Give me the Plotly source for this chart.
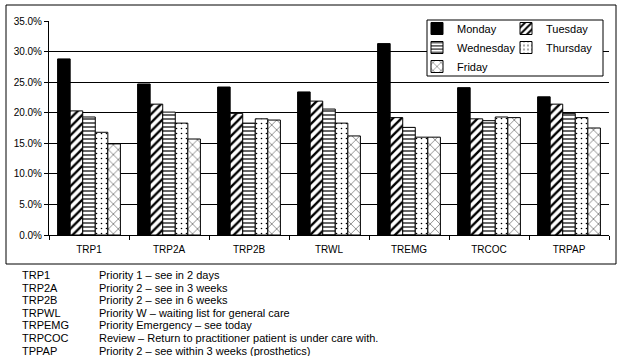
import plotly.graph_objects as go

categories = ["TRP1", "TRP2A", "TRP2B", "TRWL", "TREMG", "TRCOC", "TRPAP"]
monday = [28.8, 24.7, 24.2, 23.4, 31.3, 24.1, 22.6]
tuesday = [20.3, 21.4, 19.9, 21.9, 19.2, 19.0, 21.4]
wednesday = [19.3, 20.1, 18.3, 20.6, 17.6, 18.7, 19.9]
thursday = [16.8, 18.3, 19.0, 18.3, 16.0, 19.3, 19.2]
friday = [14.9, 15.7, 18.8, 16.2, 16.0, 19.2, 17.5]

key_codes = ["TRP1", "TRP2A", "TRP2B", "TRPWL", "TRPEMG", "TRPCOC", "TPPAP"]
key_texts = [
    "Priority 1 \u2013 see in 2 days",
    "Priority 2 \u2013 see in 3 weeks",
    "Priority 2 \u2013 see in 6 weeks",
    "Priority W \u2013 waiting list for general care",
    "Priority Emergency \u2013 see today",
    "Review \u2013 Return to practitioner patient is under care with.",
    "Priority 2 \u2013 see within 3 weeks (prosthetics)",
]

FONT = "Arial, Liberation Sans, sans-serif"
W, H = 627, 356
L, R, T, B = 49, 18, 21, 121
PW, PH = W - L - R, H - T - B

def px(x):
    return (x - L) / PW

def py(y):
    return (H - B - y) / PH

series = [
    ("Monday", monday, "", 8, 0.3, "legend"),
    ("Tuesday", tuesday, "/", 6, 0.4, "legend2"),
    ("Wednesday", wednesday, "-", 4, 0.3, "legend"),
    ("Thursday", thursday, ".", 5, 0.08, "legend2"),
    ("Friday", friday, "x", 7, 0.12, "legend"),
]

fig = go.Figure()
for name, vals, shape, size, sol, lg in series:
    if shape == "":
        marker = dict(color="black", line=dict(color="black", width=1))
    else:
        marker = dict(
            color="white",
            line=dict(color="black", width=1),
            pattern=dict(shape=shape, fgcolor="black", bgcolor="white",
                         size=size, solidity=sol, fillmode="replace"),
        )
    fig.add_trace(go.Bar(x=categories, y=vals, name=name, marker=marker, legend=lg))

annotations = []
for i, (code, text) in enumerate(zip(key_codes, key_texts)):
    yy = 275 + i * 12.6
    annotations.append(dict(x=px(20), y=py(yy), xref="paper", yref="paper", text=code,
                            showarrow=False, xanchor="left", yanchor="middle",
                            font=dict(family=FONT, size=11, color="black")))
    annotations.append(dict(x=px(97), y=py(yy), xref="paper", yref="paper", text=text,
                            showarrow=False, xanchor="left", yanchor="middle",
                            font=dict(family=FONT, size=11, color="black")))

shapes = [
    dict(type="rect", xref="paper", yref="paper", x0=px(6), x1=px(616), y0=py(264), y1=py(5),
         line=dict(color="black", width=1), fillcolor="rgba(0,0,0,0)", layer="below"),
    dict(type="rect", xref="paper", yref="paper", x0=px(427), x1=px(603), y0=py(76), y1=py(20),
         line=dict(color="black", width=1), fillcolor="white", layer="above"),
]

legend_common = dict(
    bgcolor="rgba(0,0,0,0)", borderwidth=0, orientation="v",
    xanchor="left", yanchor="top", itemwidth=30, tracegroupgap=0,
    font=dict(family=FONT, size=11, color="black"),
    itemclick=False, itemdoubleclick=False,
)

fig.update_layout(
    width=W, height=H,
    margin=dict(l=L, r=R, t=T, b=B, pad=0),
    paper_bgcolor="white", plot_bgcolor="white",
    barmode="group", bargap=0.215, bargroupgap=0,
    font=dict(family=FONT, size=10, color="black"),
    showlegend=True,
    legend=dict(x=px(417), y=py(14), **legend_common),
    legend2=dict(x=px(506), y=py(14), **legend_common),
    xaxis=dict(
        showline=True, linecolor="black", linewidth=1,
        ticks="outside", tickson="boundaries", ticklen=4, tickcolor="black",
        ticklabelstandoff=5,
        showgrid=False, tickfont=dict(family=FONT, size=10, color="black"),
    ),
    yaxis=dict(
        range=[0, 35], dtick=5, tickformat=".1f", ticksuffix="%",
        showline=True, linecolor="black", linewidth=1,
        ticks="outside", ticklen=4, tickcolor="black",
        showgrid=True, gridcolor="black", gridwidth=1, zeroline=False,
        tickfont=dict(family=FONT, size=10, color="black"),
    ),
    annotations=annotations,
    shapes=shapes,
)

fig.write_html("out.html", config={"displayModeBar": False},
               post_script="document.body.style.margin='0';")
